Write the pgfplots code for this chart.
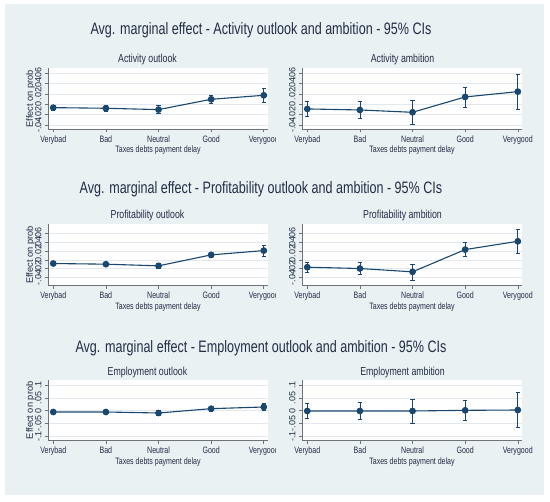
\documentclass[border=0pt]{standalone}
\usepackage{fontspec}
\setmainfont{Liberation Sans}
\usepackage{graphicx}
\usepackage{pgfplots}
\pgfplotsset{compat=1.18}
\usepackage{pgfplotstable}

\definecolor{bg}{RGB}{233,241,243}
\definecolor{navy}{RGB}{26,71,111}
\definecolor{txt}{RGB}{35,45,70}
\definecolor{gridc}{RGB}{226,232,237}
\definecolor{axc}{RGB}{110,115,120}

\newcommand{\hs}[1]{\scalebox{0.76}[1]{#1}}

% Activity outlook
\pgfplotstableread{
x y ep em
1 -0.0065 0.0046 0.0045
2 -0.0077 0.0058 0.0052
3 -0.0103 0.0078 0.0082
4 0.0097 0.0072 0.0076
5 0.0174 0.0130 0.0140
}\actout
% Activity ambition
\pgfplotstableread{
x y ep em
1 -0.0090 0.0142 0.0149
2 -0.0110 0.0168 0.0167
3 -0.0155 0.0232 0.0232
4 0.0142 0.0187 0.0194
5 0.0245 0.0342 0.0348
}\actamb
% Profitability outlook
\pgfplotstableread{
x y ep em
1 -0.0083 0.0045 0.0045
2 -0.0098 0.0045 0.0054
3 -0.0136 0.0060 0.0069
4 0.0114 0.0060 0.0061
5 0.0212 0.0121 0.0136
}\proout
% Profitability ambition
\pgfplotstableread{
x y ep em
1 -0.0167 0.0114 0.0121
2 -0.0197 0.0136 0.0136
3 -0.0273 0.0175 0.0189
4 0.0235 0.0159 0.0159
5 0.0424 0.0273 0.0272
}\proamb
% Employment outlook
\pgfplotstableread{
x y ep em
1 -0.0052 0.0050 0.0050
2 -0.0052 0.0050 0.0050
3 -0.0091 0.0104 0.0104
4 0.0078 0.0078 0.0091
5 0.0143 0.0130 0.0143
}\empout
% Employment ambition
\pgfplotstableread{
x y ep em
1 -0.0013 0.0299 0.0286
2 -0.0013 0.0338 0.0337
3 -0.0013 0.0468 0.0467
4 0.0013 0.0390 0.0377
5 0.0026 0.0688 0.0686
}\empamb

\pgfplotsset{
  panel/.style={
    scale only axis, width=220bp, anchor=south west,
    xmin=0.9, xmax=5.08, xtick={1,2,3,4,5},
    xticklabels={\hs{Verybad},\hs{Bad},\hs{Neutral},\hs{Good},\hs{Verygood}},
    scaled y ticks=false,
    axis x line*=bottom, axis y line*=left,
    axis line style={draw=axc, line width=0.6bp, -},
    tick align=outside, major tick length=3bp,
    tick style={draw=axc, line width=0.6bp},
    axis background/.style={fill=white},
    ymajorgrids, grid style={draw=gridc, line width=0.6bp},
    ticklabel style={font=\fontsize{9.3}{9.5}\selectfont, text=txt},
    yticklabel style={rotate=90, anchor=south, font=\fontsize{9}{9}\selectfont},
    xlabel={\hs{Taxes debts payment delay}},
    xlabel style={font=\fontsize{9.3}{9.5}\selectfont, text=txt, yshift=5bp},
    ylabel style={font=\fontsize{9.3}{9.5}\selectfont, text=txt},
    ylabel shift=-6.5bp,
  },
  rowA/.style={height=61bp, ymin=-0.0484, ymax=0.0697,
    ytick={-0.04,-0.02,0,0.02,0.04,0.06}, yticklabels={-.04,-.02,0,.02,.04,.06}},
  rowB/.style={height=61.4bp, ymin=-0.0589, ymax=0.0812,
    ytick={-0.04,-0.02,0,0.02,0.04,0.06}, yticklabels={-.04,-.02,0,.02,.04,.06}},
  rowC/.style={height=60.7bp, ymin=-0.117, ymax=0.1195,
    ytick={-0.1,-0.05,0,0.05,0.1}, yticklabels={-.1,-.05,0,.05,.1}},
  ser/.style={navy, line width=1.1bp, mark=*, mark size=2.8bp,
    mark options={fill=navy, draw=navy, solid},
    error bars/.cd, y dir=both, y explicit,
    error bar style={line width=0.8bp, navy},
    error mark=-,
    error mark options={rotate=90, mark size=2.2bp, line width=0.8bp, navy}},
}

\begin{document}
\begin{tikzpicture}[x=1bp,y=1bp]
\path[use as bounding box] (0,0) rectangle (550,502);
\fill[white] (0,0) rectangle (550,502);
\fill[bg] (5,7) rectangle (544,498);

% titles
\node[text=txt, font=\fontsize{16.6}{17}\selectfont] at (261,472) {\hs{Avg. marginal effect - Activity outlook and ambition - 95\% CIs}};
\node[text=txt, font=\fontsize{16.6}{17}\selectfont] at (261,313) {\hs{Avg. marginal effect - Profitability outlook and ambition - 95\% CIs}};
\node[text=txt, font=\fontsize{16.6}{17}\selectfont] at (261,154) {\hs{Avg. marginal effect - Employment outlook and ambition - 95\% CIs}};

\node[text=txt, font=\fontsize{11.6}{12}\selectfont] at (147.5,442) {\hs{Activity outlook}};
\node[text=txt, font=\fontsize{11.6}{12}\selectfont] at (402.5,442) {\hs{Activity ambition}};
\node[text=txt, font=\fontsize{11.6}{12}\selectfont] at (147.5,286) {\hs{Profitability outlook}};
\node[text=txt, font=\fontsize{11.6}{12}\selectfont] at (402.5,286) {\hs{Profitability ambition}};
\node[text=txt, font=\fontsize{11.6}{12}\selectfont] at (147.5,129.7) {\hs{Employment outlook}};
\node[text=txt, font=\fontsize{11.6}{12}\selectfont] at (402.5,129.7) {\hs{Employment ambition}};

\begin{scope}
\clip (0,0) rectangle (275,502);
\begin{axis}[panel, rowA, at={(48bp,372.7bp)}, ylabel={Effect on prob}]
\addplot[ser] table[x=x, y=y, y error plus=ep, y error minus=em] {\actout};
\end{axis}
\begin{axis}[panel, rowB, at={(48bp,216.3bp)}, ylabel={Effect on prob}]
\addplot[ser] table[x=x, y=y, y error plus=ep, y error minus=em] {\proout};
\end{axis}
\begin{axis}[panel, rowC, at={(48bp,61.3bp)}, ylabel={Effect on prob}]
\addplot[ser] table[x=x, y=y, y error plus=ep, y error minus=em] {\empout};
\end{axis}
\end{scope}

\begin{axis}[panel, rowA, at={(302bp,372.7bp)}]
\addplot[ser] table[x=x, y=y, y error plus=ep, y error minus=em] {\actamb};
\end{axis}
\begin{axis}[panel, rowB, at={(302bp,216.3bp)}]
\addplot[ser] table[x=x, y=y, y error plus=ep, y error minus=em] {\proamb};
\end{axis}
\begin{axis}[panel, rowC, at={(302bp,61.3bp)}]
\addplot[ser] table[x=x, y=y, y error plus=ep, y error minus=em] {\empamb};
\end{axis}
\end{tikzpicture}
\end{document}
